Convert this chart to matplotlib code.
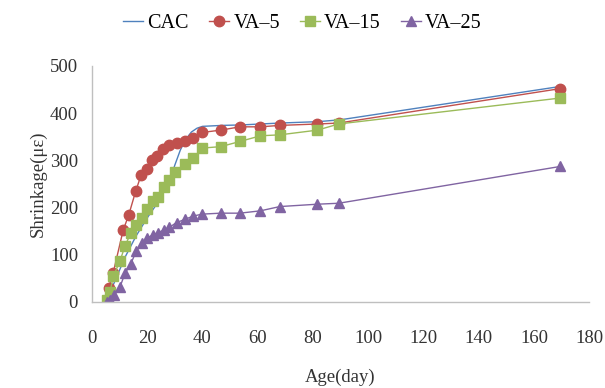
import matplotlib.pyplot as plt

# ages (days) and shrinkage (microstrain)
cac_age = [5, 8, 12, 16, 20, 24, 28, 30, 32, 34, 36, 38, 40, 47, 54, 61, 68, 82, 90, 170]
cac_val = [0, 40, 95, 140, 178, 212, 255, 290, 322, 345, 360, 368, 372, 374, 375, 377, 379, 382, 386, 457]

va5_age = [6, 7.7, 11.3, 13.3, 15.8, 17.8, 19.8, 21.6, 23.5, 25.8, 28, 30.6, 33.7, 36.6, 39.8,
           46.6, 53.6, 61, 68, 81.6, 89.3, 169.5]
va5_val = [30, 62, 152, 184, 234, 269, 282, 300, 310, 325, 332, 336, 340, 348, 359,
           364, 371, 371, 374, 377, 379, 452]

va15_age = [5.3, 6.5, 7.7, 10.1, 12, 14, 16, 18, 20, 22, 24, 26, 28, 30, 33.7, 36.7, 40,
            46.6, 53.6, 61, 68, 81.6, 89.3, 169.5]
va15_val = [4, 20, 54, 86, 119, 145, 163, 177, 196, 213, 223, 244, 258, 276, 292, 304, 326,
            329, 340, 352, 354, 364, 377, 432]

va25_age = [5.3, 6.5, 8, 10.1, 12, 14, 16, 18, 20, 22, 24, 26, 28, 30.6, 33.7, 36.7, 40,
            46.6, 53.6, 61, 68, 81.6, 89.3, 169.5]
va25_val = [0, 5, 15, 31, 61, 80, 107, 124, 135, 142, 147, 152, 158, 168, 175, 182, 186,
            188, 188, 193, 202, 207, 209, 287]

plt.rcParams['font.family'] = ['Liberation Serif', 'DejaVu Serif']

fig = plt.figure(figsize=(6.05, 3.88), dpi=100)
ax = fig.add_axes([0.152, 0.222, 0.822, 0.608])

ax.plot(cac_age, cac_val, color="#4F81BD", lw=1.0, label="CAC")
ax.plot(va5_age, va5_val, color="#C0504D", lw=1.0, marker="o", ms=7.5,
        mec="#C0504D", label="VA\u20135")
ax.plot(va15_age, va15_val, color="#9BBB59", lw=1.0, marker="s", ms=6.5,
        mec="#9BBB59", label="VA\u201315")
ax.plot(va25_age, va25_val, color="#8064A2", lw=1.0, marker="^", ms=7,
        mec="#8064A2", label="VA\u201325")

ax.set_xlim(0, 180)
ax.set_ylim(0, 500)
ax.set_xticks(range(0, 181, 20))
ax.set_yticks(range(0, 501, 100))
ax.tick_params(length=0, labelsize=13.5, colors="#333333")
ax.tick_params(axis="x", pad=20)
ax.tick_params(axis="y", pad=10)
for s in ["top", "right"]:
    ax.spines[s].set_visible(False)
for s in ["left", "bottom"]:
    ax.spines[s].set_color("#BFBFBF")
    ax.spines[s].set_linewidth(1.0)

ax.set_xlabel("Age(day)", fontsize=13.5, color="#333333", labelpad=16)
ax.set_ylabel("Shrinkage(\u03bc\u03b5)", fontsize=13.5, color="#333333", labelpad=2)

fig.legend(loc="upper center", bbox_to_anchor=(0.5, 1.0), ncol=4, frameon=False,
           fontsize=14.5, handlelength=1.0, handletextpad=0.2, columnspacing=1.0,
           borderaxespad=0.3)

fig.savefig("out.png", dpi=100)
